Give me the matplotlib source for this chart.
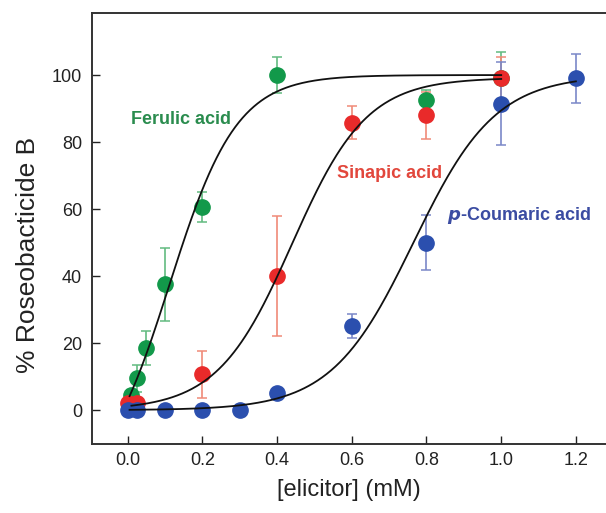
import numpy as np
import matplotlib
matplotlib.use("Agg")
import matplotlib.pyplot as plt

plt.rcParams['font.family'] = ['Liberation Sans', 'DejaVu Sans']

# ---- data ----
ferulic_x = [0.01, 0.025, 0.05, 0.1, 0.2, 0.4, 0.8, 1.0]
ferulic_y = [4.5, 9.5, 18.5, 37.5, 60.5, 100.0, 92.5, 99.0]
ferulic_err = [1.5, 4.0, 5.0, 11.0, 4.5, 5.5, 3.0, 8.0]

sinapic_x = [0.0, 0.025, 0.2, 0.4, 0.6, 0.8, 1.0]
sinapic_y = [2.0, 2.0, 10.7, 40.0, 85.8, 88.0, 99.0]
sinapic_err = [1.0, 1.0, 7.0, 18.0, 5.0, 7.0, 6.5]

coumaric_x = [0.0, 0.025, 0.1, 0.2, 0.3, 0.4, 0.6, 0.8, 1.0, 1.2]
coumaric_y = [0.0, 0.0, 0.0, 0.0, 0.0, 5.0, 25.0, 50.0, 91.5, 99.0]
coumaric_err = [0.0, 0.0, 0.0, 0.0, 0.0, 0.5, 3.6, 8.3, 12.5, 7.4]

# Boltzmann fit parameters (A1, A2, x0, dx) and curve range
ferulic_fit = (-25.0, 100.0, 0.112, 0.09)
ferulic_range = (0.005, 1.0)
sinapic_fit = (0.0, 99.2, 0.44, 0.10)
sinapic_range = (0.01, 1.0)
coumaric_fit = (0.0, 100.0, 0.765, 0.11)
coumaric_range = (0.005, 1.2)

x_ticks = [0.0, 0.2, 0.4, 0.6, 0.8, 1.0, 1.2]
x_ticklabels = ["0.0", "0.2", "0.4", "0.6", "0.8", "1.0", "1.2"]
y_ticks = [0, 20, 40, 60, 80, 100]


def boltzmann(x, a1, a2, x0, dx):
    return a2 + (a1 - a2) / (1.0 + np.exp((x - x0) / dx))


fig = plt.figure(figsize=(6.06, 5.13), dpi=100)
ax = fig.add_axes([0.1513, 0.1345, 0.8487, 0.8407])

series = [
    (ferulic_x, ferulic_y, ferulic_err, '#12994a', '#62bb80'),
    (sinapic_x, sinapic_y, sinapic_err, '#e92a2a', '#f08a78'),
    (coumaric_x, coumaric_y, coumaric_err, '#2b4fae', '#7a88c8'),
]
for xs, ys, es, c, ec in series:
    ax.errorbar(xs, ys, yerr=es, fmt='o', color=c, ecolor=ec, elinewidth=1.2,
                capsize=3.5, capthick=1.1, markersize=11,
                markeredgecolor=c, zorder=2)

for fit, rng in [(ferulic_fit, ferulic_range), (sinapic_fit, sinapic_range),
                 (coumaric_fit, coumaric_range)]:
    xx = np.linspace(rng[0], rng[1], 300)
    ax.plot(xx, boltzmann(xx, *fit), color='#111111', lw=1.3, zorder=3)

ax.text(0.009, 86.6, 'Ferulic acid', color='#2a8c4e', fontsize=13,
        fontweight='bold', va='center', ha='left')
ax.text(0.56, 70.6, 'Sinapic acid', color='#e2473c', fontsize=13,
        fontweight='bold', va='center', ha='left')
ax.text(0.854, 58.2, r'$\mathbfit{p}$-Coumaric acid', color='#3b4ca2', fontsize=13,
        fontweight='bold', va='center', ha='left')

ax.set_xlim(-0.0964, 1.2806)
ax.set_ylim(-10.1, 118.6)
ax.set_xticks(x_ticks)
ax.set_xticklabels(x_ticklabels)
ax.set_yticks(y_ticks)
ax.tick_params(direction='in', length=6, width=1.0, labelsize=13, colors='#222222')
ax.tick_params(axis='x', pad=6)
ax.tick_params(axis='y', pad=7)
for s in ['left', 'top', 'bottom']:
    ax.spines[s].set_linewidth(1.4)
    ax.spines[s].set_color('#333333')
ax.spines['right'].set_visible(False)

ax.set_xlabel('[elicitor] (mM)', fontsize=17, labelpad=7, color='#222222')
ax.set_ylabel('% Roseobacticide B', fontsize=19, color='#222222')
ax.yaxis.set_label_coords(-0.10, 0.438)

fig.savefig('out.png', dpi=100)
